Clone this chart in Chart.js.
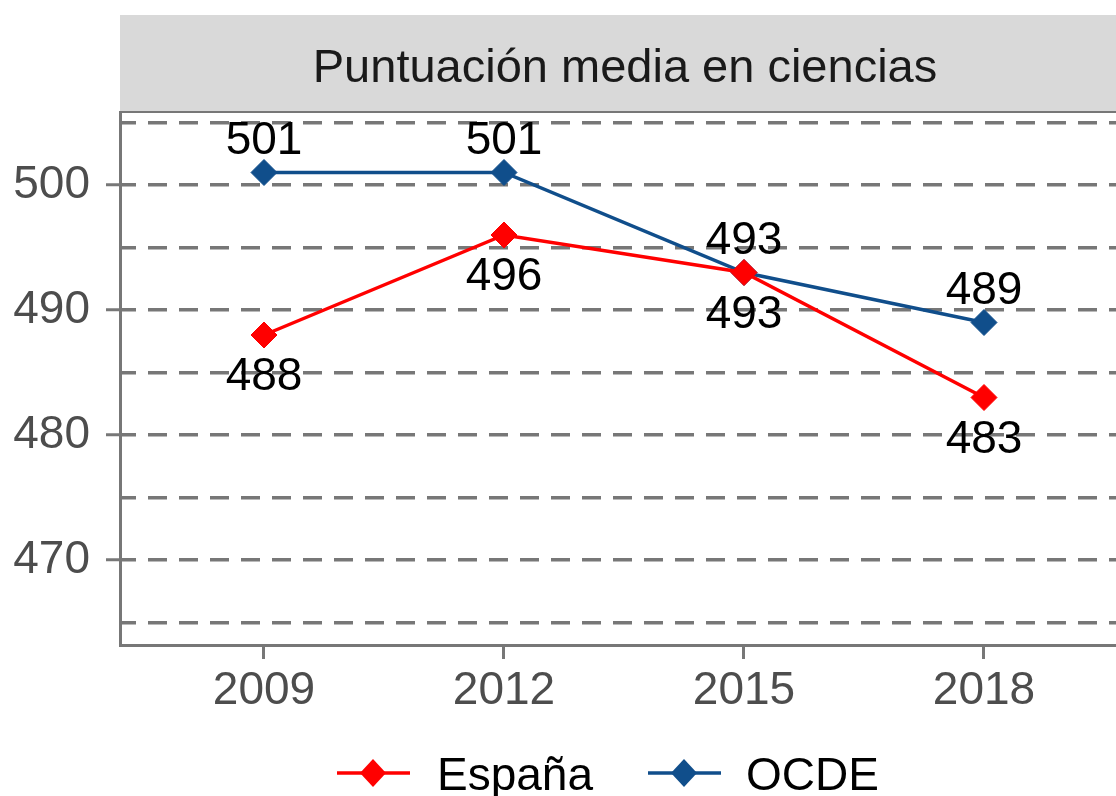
<!DOCTYPE html>
<html>
<head>
<meta charset="utf-8">
<title>Puntuación media en ciencias</title>
<script src="https://cdn.jsdelivr.net/npm/chart.js@4"></script>
<style>
  html, body { margin: 0; padding: 0; background: #fff; overflow: hidden; }
  #wrap { width: 1116px; height: 796px; position: relative; }
</style>
</head>
<body>
<div id="wrap"><canvas id="myChart"></canvas></div>
<script>
// PISA science averages
var years = [2009, 2012, 2015, 2018];
var espana = [488, 496, 493, 483];
var ocde = [501, 501, 493, 489];
var seriesNames = ['España', 'OCDE'];
var yTicks = [465, 470, 475, 480, 485, 490, 495, 500, 505];
var title = 'Puntuación media en ciencias';

var redColor = '#ff0000';
var blueColor = '#104e8b';
var gridColor = '#777777';
var fontFamily = '"Liberation Sans", Arial, sans-serif';

function toPoints(vals) {
    return vals.map((v, i) => ({ x: years[i], y: v }));
}

// grey strip with the facet title
const stripPlugin = {
    id: 'strip',
    beforeDraw(chart) {
        const ctx = chart.ctx, area = chart.chartArea;
        ctx.save();
        ctx.fillStyle = '#d9d9d9';
        ctx.fillRect(area.left, 15, area.right - area.left, area.top - 15);
        ctx.strokeStyle = gridColor;
        ctx.lineWidth = 2;
        ctx.beginPath();
        ctx.moveTo(area.left, area.top);
        ctx.lineTo(area.right, area.top);
        ctx.stroke();
        ctx.fillStyle = '#1a1a1a';
        ctx.font = '47px ' + fontFamily;
        ctx.textAlign = 'center';
        ctx.textBaseline = 'alphabetic';
        ctx.fillText(title, 625, 82);
        ctx.restore();
    }
};

// value labels above (OCDE) or below (España) each point
const valueLabels = {
    id: 'valueLabels',
    afterDatasetsDraw(chart) {
        const ctx = chart.ctx;
        ctx.save();
        ctx.font = '46px ' + fontFamily;
        ctx.fillStyle = '#000';
        ctx.textAlign = 'center';
        ctx.textBaseline = 'alphabetic';
        chart.data.datasets.forEach((ds, i) => {
            const meta = chart.getDatasetMeta(i);
            meta.data.forEach((pt, j) => {
                const dy = ds.labelAbove ? -19 : 55;
                ctx.fillText(String(ds.data[j].y), pt.x, pt.y + dy);
            });
        });
        ctx.restore();
    }
};

// bottom legend: line + diamond + name
const bottomLegend = {
    id: 'bottomLegend',
    afterDraw(chart) {
        const ctx = chart.ctx;
        const y = 773;
        const items = [{ x: 337, tx: 437 }, { x: 648, tx: 746 }];
        ctx.save();
        chart.data.datasets.forEach((ds, i) => {
            const it = items[i];
            ctx.strokeStyle = ds.borderColor;
            ctx.lineWidth = 3.5;
            ctx.beginPath();
            ctx.moveTo(it.x, y);
            ctx.lineTo(it.x + 73, y);
            ctx.stroke();
            ctx.fillStyle = ds.borderColor;
            ctx.beginPath();
            ctx.moveTo(it.x + 36, y - 14);
            ctx.lineTo(it.x + 49, y);
            ctx.lineTo(it.x + 36, y + 14);
            ctx.lineTo(it.x + 23, y);
            ctx.closePath();
            ctx.fill();
            ctx.fillStyle = '#000';
            ctx.font = '46px ' + fontFamily;
            ctx.textBaseline = 'alphabetic';
            ctx.textAlign = 'left';
            ctx.fillText(ds.label, it.tx, 790);
        });
        ctx.restore();
    }
};

const data = {
    datasets: [
        {
            label: seriesNames[0],
            data: toPoints(espana),
            borderColor: redColor,
            backgroundColor: redColor,
            labelAbove: false
        },
        {
            label: seriesNames[1],
            data: toPoints(ocde),
            borderColor: blueColor,
            backgroundColor: blueColor,
            labelAbove: true
        }
    ]
};

const config = {
    type: 'line',
    data: data,
    options: {
        responsive: true,
        maintainAspectRatio: false,
        animation: false,
        layout: { autoPadding: false, padding: { top: 112, left: 0, right: 0, bottom: 0 } },
        elements: {
            line: { borderWidth: 3.5, tension: 0 },
            point: { pointStyle: 'rectRot', radius: 13, borderWidth: 1 }
        },
        plugins: {
            legend: { display: false },
            tooltip: { enabled: false }
        },
        scales: {
            x: {
                type: 'linear',
                min: 2007.2,
                max: 2019.65,
                afterBuildTicks: s => { s.ticks = years.map(v => ({ value: v })); },
                afterFit: s => { s.height = 151; },
                grid: {
                    drawOnChartArea: false,
                    drawTicks: true,
                    tickLength: 14,
                    tickWidth: 3,
                    tickColor: gridColor
                },
                border: { display: true, color: gridColor, width: 3 },
                ticks: {
                    color: '#4d4d4d',
                    font: { family: fontFamily, size: 46 },
                    padding: 5,
                    maxRotation: 0,
                    autoSkip: false,
                    callback: v => String(v)
                }
            },
            y: {
                min: 463.2,
                max: 505.84,
                afterBuildTicks: s => { s.ticks = yTicks.map(v => ({ value: v })); },
                afterFit: s => { s.width = 120; },
                grid: {
                    color: gridColor,
                    lineWidth: 3.5,
                    tickLength: 14,
                    tickWidth: 3,
                    tickColor: c => (c.tick && c.tick.value % 10 === 0) ? gridColor : 'rgba(0,0,0,0)'
                },
                border: { display: true, color: gridColor, width: 3, dash: [19, 12], dashOffset: 5 },
                ticks: {
                    color: '#4d4d4d',
                    font: { family: fontFamily, size: 46 },
                    padding: 16,
                    autoSkip: false,
                    callback: v => (v % 10 === 0 ? String(v) : '')
                }
            }
        }
    },
    plugins: [stripPlugin, valueLabels, bottomLegend]
};

var myChart = new Chart(document.getElementById('myChart'), config);
</script>
</body>
</html>
